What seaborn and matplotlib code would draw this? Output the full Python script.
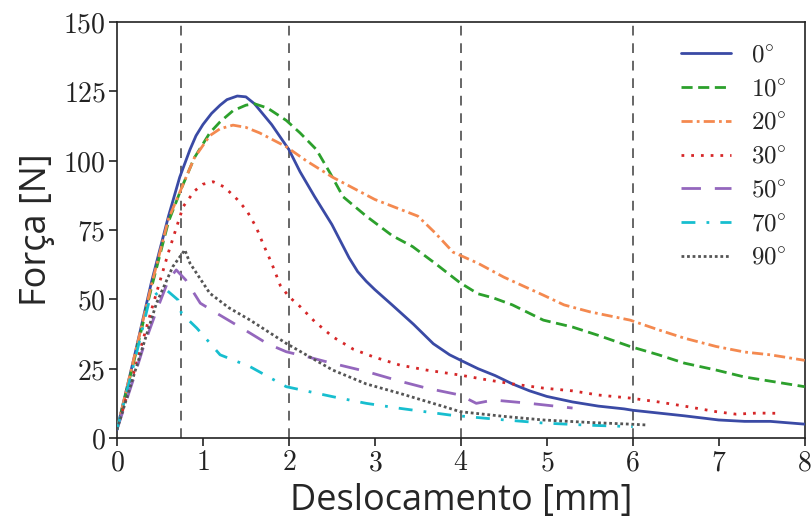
import numpy as np
import pandas as pd
import matplotlib
matplotlib.use("Agg")
import matplotlib.pyplot as plt
import seaborn as sns

# ---- data ----
x0 = [0, 0.2, 0.4, 0.6, 0.73, 0.85, 0.92, 1.0, 1.1, 1.2, 1.28, 1.4, 1.5, 1.6, 1.8, 2.0, 2.13, 2.3, 2.5, 2.6, 2.7, 2.8, 2.9, 3.0, 3.2, 3.45, 3.68, 3.87, 4.0, 4.2, 4.4, 4.6, 4.8, 5.0, 5.3, 5.6, 5.9, 6.0, 6.3, 6.6, 7.0, 7.3, 7.6, 8.0]
y0 = [3, 29, 56, 80, 94, 104, 109, 113, 117, 120, 122, 123.3, 123, 120.5, 113, 104, 96, 87, 77, 71, 65, 60, 56.5, 53.5, 48, 41, 34, 30, 28, 25, 22.5, 19.5, 17, 15, 13, 11.5, 10.5, 10, 9, 8, 6.5, 6, 6, 5]

x10 = [0, 0.2, 0.4, 0.6, 0.75, 0.9, 1.08, 1.2, 1.35, 1.5, 1.6, 1.75, 1.97, 2.13, 2.32, 2.48, 2.63, 2.9, 3.2, 3.44, 3.7, 3.99, 4.2, 4.38, 4.6, 4.96, 5.3, 5.6, 5.97, 6.3, 6.6, 6.97, 7.3, 7.6, 8.0]
y10 = [3, 28, 54, 78, 90, 101, 110, 114, 118, 120, 120.5, 119, 114.5, 110, 104, 95.5, 87, 80, 73, 69, 63, 56, 52, 50.5, 48, 42.5, 40, 37, 33, 30, 27, 24.5, 22, 20.5, 18.5]

x20 = [0, 0.2, 0.4, 0.6, 0.75, 0.9, 1.08, 1.2, 1.35, 1.5, 1.66, 1.97, 2.2, 2.51, 3.0, 3.5, 3.7, 3.91, 4.2, 4.5, 4.96, 5.2, 5.5, 5.97, 6.3, 6.6, 6.97, 7.3, 7.6, 8.0]
y20 = [3, 29, 55, 79, 90, 101, 109, 111.5, 112.8, 112, 110, 105, 100, 94, 86, 80, 74, 67, 63, 58, 51.5, 48, 45.5, 42.5, 39, 36, 33, 31, 30, 28]

x30 = [0, 0.2, 0.4, 0.6, 0.77, 0.9, 1.0, 1.12, 1.25, 1.4, 1.51, 1.62, 1.7, 1.8, 1.9, 2.0, 2.13, 2.3, 2.51, 2.75, 2.98, 3.29, 3.6, 3.99, 4.3, 4.6, 4.96, 5.3, 5.6, 5.97, 6.3, 6.6, 6.97, 7.2, 7.45, 7.7]
y30 = [3, 24, 46, 67, 83.4, 89, 91.5, 92.4, 90.5, 86, 82, 76, 70, 63, 55, 51, 47.4, 42, 36.5, 32, 29.3, 26.3, 24.5, 22.7, 21, 19.5, 18, 17, 15.5, 14.4, 13, 11.5, 9.5, 8.6, 9, 8.9]

x50 = [0, 0.2, 0.31, 0.45, 0.6, 0.69, 0.8, 0.97, 1.16, 1.35, 1.55, 1.75, 1.97, 2.25, 2.51, 2.9, 3.29, 3.6, 3.99, 4.18, 4.38, 4.8, 5.3]
y50 = [3, 22, 33, 45, 57, 60.6, 57, 48.6, 45, 41.5, 37.8, 34, 31.1, 29, 26.9, 24, 20.5, 18, 15.5, 12.5, 13.7, 12.5, 10.8]

x70 = [0, 0.2, 0.38, 0.5, 0.59, 0.71, 0.75, 0.93, 1.2, 1.55, 1.97, 2.51, 2.9, 3.29, 3.87, 4.4, 4.96, 5.5, 6.0]
y70 = [3, 27, 50, 53, 53, 49.8, 45, 39.6, 30, 25.7, 18.5, 14.9, 12.5, 10.7, 8.3, 6.8, 5.4, 4.6, 4.1]

x90 = [0, 0.2, 0.46, 0.65, 0.79, 0.85, 1.08, 1.3, 1.55, 1.97, 2.51, 2.9, 3.29, 3.87, 3.99, 4.5, 4.96, 5.5, 5.97, 6.16]
y90 = [3, 23, 48.6, 61.8, 67.8, 63, 52.2, 47, 42.5, 34.1, 24.5, 19.5, 16.1, 10.7, 9.5, 7.8, 6.5, 5.6, 5, 4.7]

labels = ["0", "10", "20", "30", "50", "70", "90"]
series_x = [x0, x10, x20, x30, x50, x70, x90]
series_y = [y0, y10, y20, y30, y50, y70, y90]

vlines = [0.75, 2, 4, 6]
xticks = [0, 1, 2, 3, 4, 5, 6, 7, 8]
yticks = [0, 25, 50, 75, 100, 125, 150]

colors = ["#3a4aa5", "#2ca02c", "#f4894f", "#d62728", "#9467bd", "#17becf", "#555555"]
styles = ["-", (0, (4, 2)), (0, (4, 1.5, 1, 1.5)), (0, (1, 2.5)), (0, (7, 5)), (0, (5, 4, 1, 4)), (0, (1, 1))]

sns.set_style("ticks")
plt.rcParams["mathtext.fontset"] = "cm"
plt.rcParams["font.family"] = ["Open Sans", "DejaVu Sans"]

fig = plt.figure(figsize=(8.12, 5.23), dpi=100)
ax = fig.add_axes([0.144, 0.1625, 0.847, 0.7955])

for v in vlines:
    ax.axvline(v, color="#666666", lw=1.4, ls=(0, (5, 4)), zorder=1)

for lab, xs, ys, c, st in zip(labels, series_x, series_y, colors, styles):
    df = pd.DataFrame({"x": xs, "y": ys})
    sns.lineplot(data=df, x="x", y="y", ax=ax, color=c, linestyle=st, lw=2.0,
                 estimator=None, sort=False, label=rf"${lab}\!^\circ$", zorder=3)

ax.set_xlim(0, 8)
ax.set_ylim(0, 150)
ax.set_xticks(xticks, labels=[f"${t}$" for t in xticks])
ax.set_yticks(yticks, labels=[f"${t}$" for t in yticks])
ax.tick_params(axis="both", labelsize=20, direction="out", length=6, width=1.2, colors="#222222", pad=2)
for s in ax.spines.values():
    s.set_color("#222222")
    s.set_linewidth(1.2)

ax.set_xlabel("Deslocamento [mm]", fontsize=26, labelpad=4)
ax.set_ylabel("Força [N]", fontsize=26, labelpad=6)

leg = ax.legend(loc="upper right", frameon=False, fontsize=18, handlelength=2.0,
                labelspacing=0.35, handletextpad=0.8, borderaxespad=0.2,
                bbox_to_anchor=(0.995, 0.985))

fig.savefig("out.png", dpi=100)
